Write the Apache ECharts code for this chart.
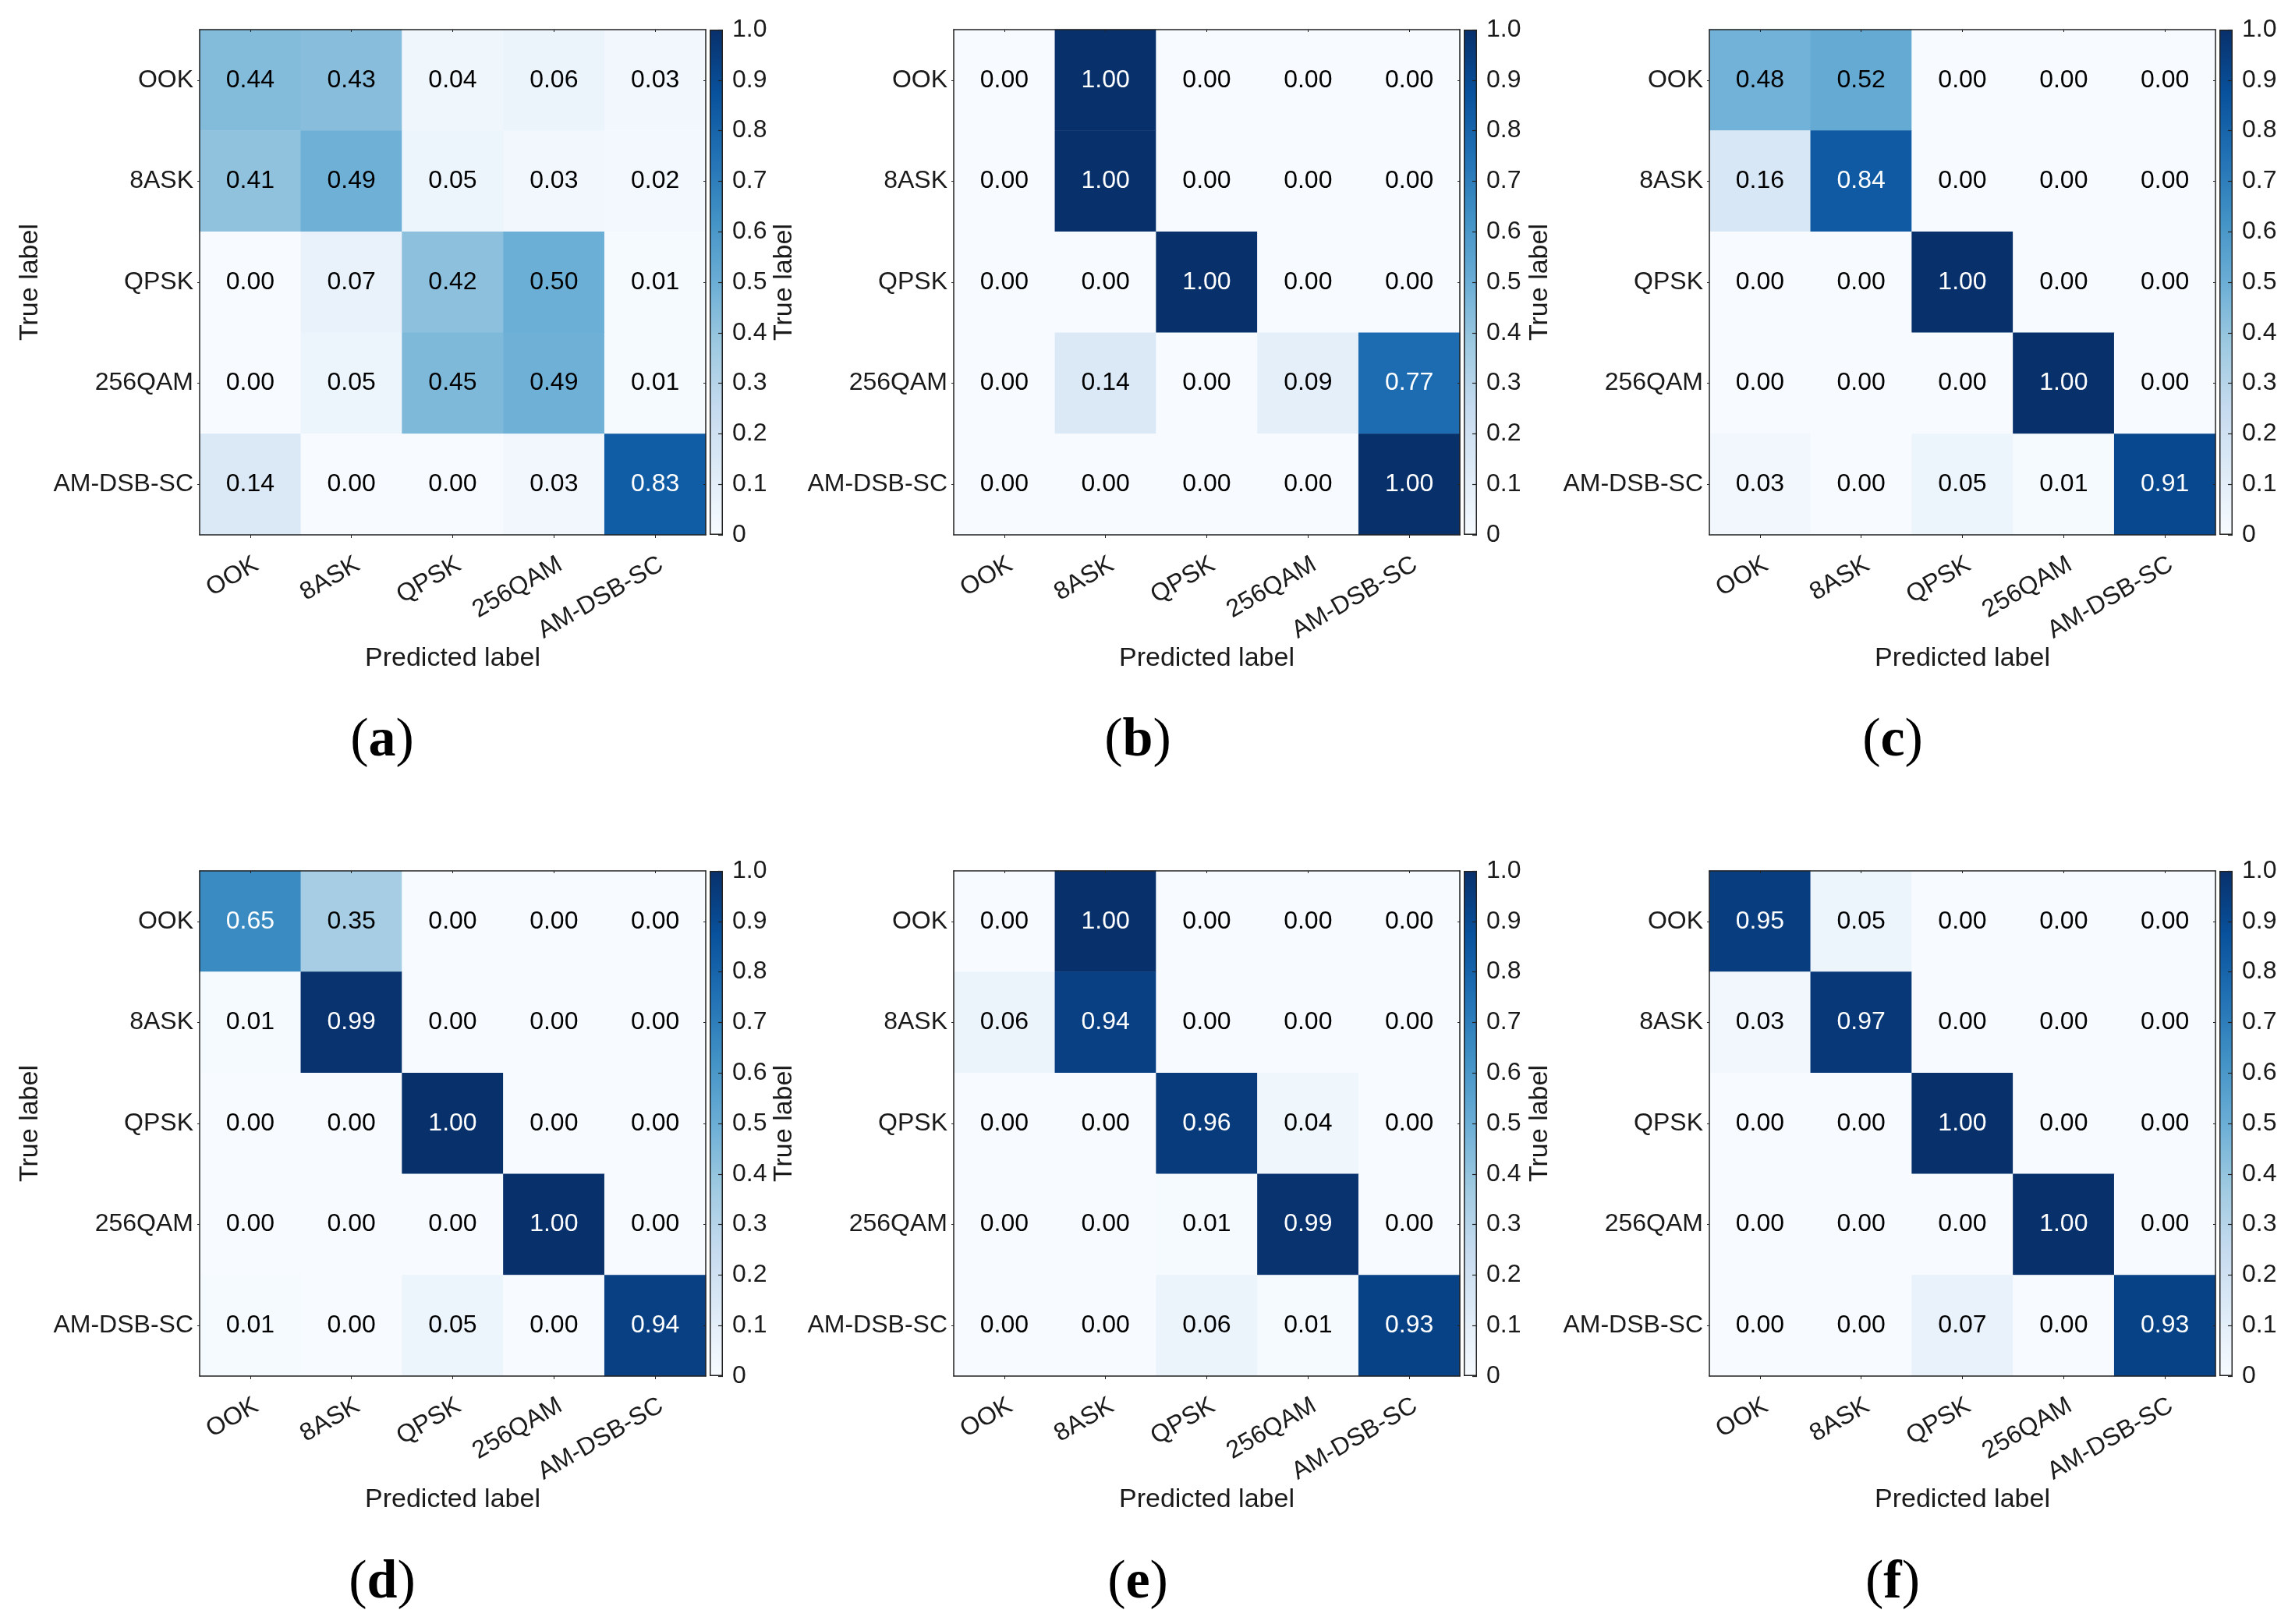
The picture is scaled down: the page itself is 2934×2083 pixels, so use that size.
<!DOCTYPE html>
<html>
<head>
<meta charset="utf-8">
<script src="https://cdn.jsdelivr.net/npm/echarts@6/dist/echarts.min.js"></script>
<style>html,body{margin:0;padding:0;background:#fff;}#chart{width:2934px;height:2083px;}</style>
</head>
<body>
<div id="chart"></div>
<script>
// ---- data ----
const categories = ['OOK', '8ASK', 'QPSK', '256QAM', 'AM-DSB-SC'];
const panelA = [
  [0.44, 0.43, 0.04, 0.06, 0.03],
  [0.41, 0.49, 0.05, 0.03, 0.02],
  [0.00, 0.07, 0.42, 0.50, 0.01],
  [0.00, 0.05, 0.45, 0.49, 0.01],
  [0.14, 0.00, 0.00, 0.03, 0.83]
];
const panelB = [
  [0.00, 1.00, 0.00, 0.00, 0.00],
  [0.00, 1.00, 0.00, 0.00, 0.00],
  [0.00, 0.00, 1.00, 0.00, 0.00],
  [0.00, 0.14, 0.00, 0.09, 0.77],
  [0.00, 0.00, 0.00, 0.00, 1.00]
];
const panelC = [
  [0.48, 0.52, 0.00, 0.00, 0.00],
  [0.16, 0.84, 0.00, 0.00, 0.00],
  [0.00, 0.00, 1.00, 0.00, 0.00],
  [0.00, 0.00, 0.00, 1.00, 0.00],
  [0.03, 0.00, 0.05, 0.01, 0.91]
];
const panelD = [
  [0.65, 0.35, 0.00, 0.00, 0.00],
  [0.01, 0.99, 0.00, 0.00, 0.00],
  [0.00, 0.00, 1.00, 0.00, 0.00],
  [0.00, 0.00, 0.00, 1.00, 0.00],
  [0.01, 0.00, 0.05, 0.00, 0.94]
];
const panelE = [
  [0.00, 1.00, 0.00, 0.00, 0.00],
  [0.06, 0.94, 0.00, 0.00, 0.00],
  [0.00, 0.00, 0.96, 0.04, 0.00],
  [0.00, 0.00, 0.01, 0.99, 0.00],
  [0.00, 0.00, 0.06, 0.01, 0.93]
];
const panelF = [
  [0.95, 0.05, 0.00, 0.00, 0.00],
  [0.03, 0.97, 0.00, 0.00, 0.00],
  [0.00, 0.00, 1.00, 0.00, 0.00],
  [0.00, 0.00, 0.00, 1.00, 0.00],
  [0.00, 0.00, 0.07, 0.00, 0.93]
];
const panels = [panelA, panelB, panelC, panelD, panelE, panelF];
const captions = ['a', 'b', 'c', 'd', 'e', 'f'];
const colorbarRange = [0, 1];
const colorbarStep = 0.1;
const xName = 'Predicted label';
const yName = 'True label';

// ---- style / layout ----
const blues = ['#f7fbff', '#deebf7', '#c6dbef', '#9ecae1', '#6baed6', '#4292c6', '#2171b5', '#08519c', '#08306b'];
const SANS = '"Liberation Sans", Arial, sans-serif';
const SERIF = '"Liberation Serif", "Times New Roman", serif';
const colLefts = [256, 1223, 2192];
const rowTops = [38, 1117];
const HM_W = 649, HM_H = 648;
const CB_GAP = 5, CB_W = 17;
const captionX = [490, 1459, 2427];
const captionY = [951, 2031];
const frameColor = '#222';
const textColor = '#1a1a1a';

const grids = [], xAxes = [], yAxes = [], series = [], graphics = [];
const heatIdx = [];

panels.forEach((mat, p) => {
  const col = p % 3, row = Math.floor(p / 3);
  const left = colLefts[col], top = rowTops[row];
  // heatmap grid
  const gi = grids.length;
  grids.push({ left: left, top: top, width: HM_W, height: HM_H });
  const xMain = xAxes.length;
  xAxes.push({
    gridIndex: gi, type: 'category', data: categories, position: 'bottom', z: 5,
    axisLine: { show: true, lineStyle: { color: frameColor, width: 1.5 } },
    axisTick: { show: true, alignWithLabel: true, length: 4, lineStyle: { color: frameColor } },
    axisLabel: { rotate: 30, fontSize: 32, color: textColor, fontFamily: SANS, margin: 22, verticalAlign: 'top' },
    splitLine: { show: false },
    name: xName, nameLocation: 'middle', nameGap: 139,
    nameTextStyle: { fontSize: 34, color: textColor, fontFamily: SANS }
  });
  xAxes.push({
    gridIndex: gi, type: 'category', data: categories, position: 'top', z: 5,
    axisLine: { show: true, lineStyle: { color: frameColor, width: 1.5 } },
    axisTick: { show: true, inside: true, alignWithLabel: true, length: 3, lineStyle: { color: frameColor } },
    axisLabel: { show: false }, splitLine: { show: false }
  });
  const yMain = yAxes.length;
  yAxes.push({
    gridIndex: gi, type: 'category', data: categories, inverse: true, position: 'left', z: 5,
    axisLine: { show: true, lineStyle: { color: frameColor, width: 1.5 } },
    axisTick: { show: true, alignWithLabel: true, length: 3, lineStyle: { color: frameColor } },
    axisLabel: { fontSize: 32, color: textColor, fontFamily: SANS, margin: 8 },
    splitLine: { show: false },
    name: yName, nameLocation: 'middle', nameGap: 200, nameRotate: 90,
    nameTextStyle: { fontSize: 34, color: textColor, fontFamily: SANS }
  });
  yAxes.push({
    gridIndex: gi, type: 'category', data: categories, inverse: true, position: 'right', z: 5,
    axisLine: { show: true, lineStyle: { color: frameColor, width: 1.5 } },
    axisTick: { show: true, inside: true, alignWithLabel: true, length: 3, lineStyle: { color: frameColor } },
    axisLabel: { show: false }, splitLine: { show: false }
  });
  const data = [];
  mat.forEach((rowVals, r) => rowVals.forEach((v, c) => {
    data.push({ value: [c, r, v], label: { color: v > 0.6 ? '#ffffff' : '#000000' } });
  }));
  heatIdx.push(series.length);
  series.push({
    type: 'heatmap', xAxisIndex: xMain, yAxisIndex: yMain, data: data,
    label: { show: true, fontSize: 32, fontFamily: SANS, formatter: (pr) => pr.value[2].toFixed(2) },
    itemStyle: { borderWidth: 0 },
    emphasis: { disabled: true }
  });

  // colorbar grid
  const cg = grids.length;
  grids.push({ left: left + HM_W + CB_GAP, top: top, width: CB_W, height: HM_H });
  const cx = xAxes.length;
  xAxes.push({ gridIndex: cg, type: 'category', data: ['cb'], show: false });
  const cy = yAxes.length;
  yAxes.push({
    gridIndex: cg, type: 'value', min: colorbarRange[0], max: colorbarRange[1], interval: colorbarStep,
    position: 'right', z: 5,
    axisLine: { show: false },
    axisTick: { show: true, inside: true, length: 6, lineStyle: { color: frameColor, width: 1.2 } },
    axisLabel: { fontSize: 32, color: textColor, fontFamily: SANS, margin: 12,
      formatter: (v) => (v === 0 ? '0' : v.toFixed(1)) },
    splitLine: { show: false }
  });
  series.push({
    type: 'bar', xAxisIndex: cx, yAxisIndex: cy, data: [colorbarRange[1]], barWidth: '100%',
    silent: true,
    itemStyle: {
      borderColor: frameColor, borderWidth: 1.5,
      color: new echarts.graphic.LinearGradient(0, 1, 0, 0,
        blues.map((c, i) => ({ offset: i / (blues.length - 1), color: c })))
    }
  });

  graphics.push({
    type: 'text', x: captionX[col], y: captionY[row],
    style: {
      text: '{p|(}{b|' + captions[p] + '}{p|)}', align: 'center', verticalAlign: 'middle',
      rich: {
        p: { fontSize: 70, fontFamily: SERIF, fill: '#000' },
        b: { fontSize: 70, fontFamily: SERIF, fontWeight: 'bold', fill: '#000' }
      }
    }
  });
});

const option = {
  animation: false,
  backgroundColor: '#ffffff',
  grid: grids,
  xAxis: xAxes,
  yAxis: yAxes,
  visualMap: [{
    type: 'continuous', show: false, min: colorbarRange[0], max: colorbarRange[1],
    seriesIndex: heatIdx, dimension: 2, inRange: { color: blues }
  }],
  series: series,
  graphic: graphics
};

const chart = echarts.init(document.getElementById('chart'));
chart.setOption(option);
</script>
</body>
</html>
